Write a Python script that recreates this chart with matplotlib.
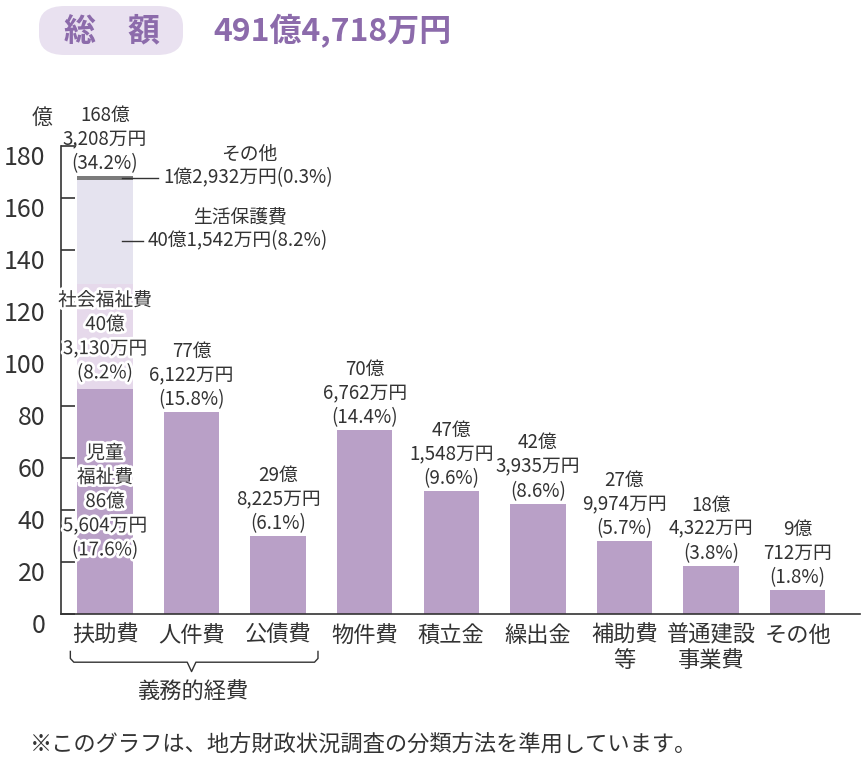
import matplotlib
matplotlib.use("Agg")
import matplotlib.pyplot as plt
import matplotlib.patheffects as pe
from matplotlib.patches import FancyBboxPatch
from matplotlib.transforms import ScaledTranslation, blended_transform_factory

plt.rcParams['font.family'] = ['Noto Sans CJK JP', 'DejaVu Sans']

# =============================================================================
# Data (億円)
# =============================================================================
categories = ['扶助費', '人件費', '公債費', '物件費', '積立金', '繰出金',
              '補助費\n等', '普通建設\n事業費', 'その他']
values = [168.3208, 77.6122, 29.8225, 70.6762, 47.1548, 42.3935,
          27.9974, 18.4322, 9.0712]
value_labels = ['168億\n3,208万円\n(34.2%)', '77億\n6,122万円\n(15.8%)',
                '29億\n8,225万円\n(6.1%)', '70億\n6,762万円\n(14.4%)',
                '47億\n1,548万円\n(9.6%)', '42億\n3,935万円\n(8.6%)',
                '27億\n9,974万円\n(5.7%)', '18億\n4,322万円\n(3.8%)',
                '9億\n712万円\n(1.8%)']

# breakdown of 扶助費 (bottom -> top)
fujo_parts = ['児童福祉費', '社会福祉費', '生活保護費', 'その他']
fujo_values = [86.5604, 40.3130, 40.1542, 1.2932]
fujo_colors = ['#b9a0c7', '#e6d9eb', '#e5e3ef', '#7b7b7b']

total_label = '491億4,718万円'
yticks = list(range(0, 181, 20))

# =============================================================================
# Figure
# =============================================================================
W, H = 864, 760
fig = plt.figure(figsize=(W / 100, H / 100), dpi=100)
ax = fig.add_axes([61 / W, 1 - 614 / H, (860 - 61) / W, (614 - 146) / H])

text_color = '#333333'
bar_color = '#b9a0c7'
bar_w = 0.64
lab_fs = 13.5
lab_ls = 1.2
x = list(range(len(categories)))

# stacked first bar
bottom = 0
mids = []
for v, c in zip(fujo_values, fujo_colors):
    ax.bar(0, v, bottom=bottom, width=bar_w, color=c, zorder=2)
    mids.append(bottom + v / 2)
    bottom += v

# remaining bars
ax.bar(x[1:], values[1:], width=bar_w, color=bar_color, zorder=2)

# value labels above bars
for xi, v, lab in zip(x, values, value_labels):
    ax.annotate(lab, (xi, v), xytext=(0, 1.5), textcoords='offset points',
                ha='center', va='bottom', fontsize=lab_fs, color=text_color,
                linespacing=lab_ls, zorder=5)

# labels inside stacked bar
stroke = [pe.withStroke(linewidth=4, foreground='white')]
ax.text(0, mids[0], '児童\n福祉費\n86億\n5,604万円\n(17.6%)', ha='center',
        va='center', fontsize=lab_fs, color=text_color, linespacing=lab_ls,
        path_effects=stroke, zorder=5)
ax.text(0, mids[1], '社会福祉費\n40億\n3,130万円\n(8.2%)', ha='center',
        va='center', fontsize=lab_fs, color=text_color, linespacing=lab_ls,
        path_effects=stroke, zorder=5)

# callouts for the upper segments
ax.plot([0.2, 0.61], [mids[3], mids[3]], color=text_color, lw=1, zorder=4,
        clip_on=False)
ax.text(0.68, mids[3], '1億2,932万円(0.3%)', ha='left', va='center',
        fontsize=lab_fs, color=text_color)
ax.text(1.67, mids[3] + 9, 'その他', ha='center', va='center',
        fontsize=lab_fs, color=text_color)

ax.plot([0.2, 0.44], [143.5, 143.5], color=text_color, lw=1, zorder=4)
ax.text(0.49, 143.5, '40億1,542万円(8.2%)', ha='left', va='center',
        fontsize=lab_fs, color=text_color)
ax.text(1.56, 152.5, '生活保護費', ha='center', va='center',
        fontsize=lab_fs, color=text_color)

# axes styling
ax.set_xlim(-0.508, 8.72)
ax.set_ylim(0, 180)
ax.spines['top'].set_visible(False)
ax.spines['right'].set_visible(False)
ax.spines['left'].set_color(text_color)
ax.spines['bottom'].set_color(text_color)
ax.spines['left'].set_linewidth(1.2)
ax.spines['bottom'].set_linewidth(1.2)

ax.set_yticks(yticks)
ax.tick_params(axis='y', direction='in', length=10, width=1.2,
               colors=text_color, labelsize=18, pad=11)
for lab in ax.get_yticklabels():
    lab.set_transform(lab.get_transform() +
                      ScaledTranslation(0, -0.09, fig.dpi_scale_trans))

ax.set_xticks(x)
ax.set_xticklabels(categories, fontsize=16, color=text_color, linespacing=1.1)
ax.tick_params(axis='x', length=0, pad=7)

ax.text(-0.73, 190.8, '億', ha='center', va='center', fontsize=15,
        color=text_color, clip_on=False)

# brace for 義務的経費
bt = blended_transform_factory(ax.transData, ax.transAxes)
y_top, y_mid, y_tip = -0.08, -0.103, -0.123
r = 0.04
brace_x = [-0.4, -0.4, -0.4 + r, 1 - 0.05, 1, 1 + 0.05, 2.46 - r, 2.46, 2.46]
brace_y = [y_top, y_mid + 0.008, y_mid, y_mid, y_tip, y_mid, y_mid,
           y_mid + 0.008, y_top]
ax.plot(brace_x, brace_y, transform=bt, color=text_color, lw=1,
        clip_on=False)
ax.text(1.02, -0.167, '義務的経費', transform=bt, ha='center', va='center',
        fontsize=16, color=text_color)

# title
pill = FancyBboxPatch((39 / W, 1 - 55 / H), (183 - 39) / W, 49 / H,
                      boxstyle='round,pad=0,rounding_size=0.03',
                      transform=fig.transFigure, facecolor='#e9e1f0',
                      edgecolor='none', mutation_aspect=H / W)
fig.patches.append(pill)
fig.text(112 / W, 1 - 31 / H, '総　額', ha='center', va='center',
         fontsize=23, fontweight='bold', color='#8c6bab')
fig.text(213 / W, 1 - 31 / H, total_label, ha='left', va='center',
         fontsize=23, fontweight='bold', color='#8c6bab')

# footnote
fig.text(30 / W, 1 - 745 / H,
         '※このグラフは、地方財政状況調査の分類方法を準用しています。',
         ha='left', va='center', fontsize=16, color=text_color)

fig.savefig('out.png', dpi=100)
